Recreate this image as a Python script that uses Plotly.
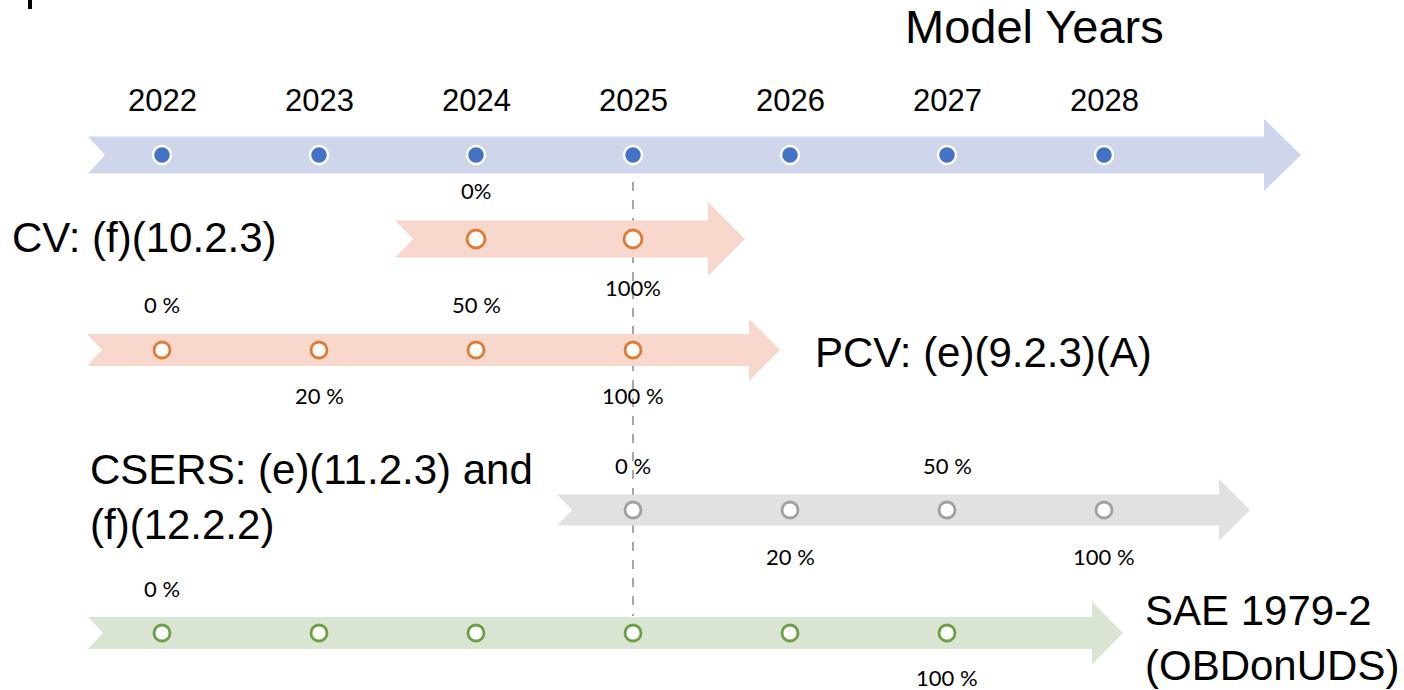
import plotly.graph_objects as go

# ---------------- data ----------------
model_years = [2022, 2023, 2024, 2025, 2026, 2027, 2028]

cv_years = [2024, 2025]
cv_labels = ["0%", "100%"]

pcv_years = [2022, 2023, 2024, 2025]
pcv_labels = ["0 %", "20 %", "50 %", "100 %"]

csers_years = [2025, 2026, 2027, 2028]
csers_labels = ["0 %", "20 %", "50 %", "100 %"]

sae_years = [2022, 2023, 2024, 2025, 2026, 2027]
sae_labels = ["0 %", "", "", "", "", "100 %"]

deadline_year = 2025

# ---------------- layout helpers ----------------
W, H = 1404, 690
PX_PER_YEAR = 157.0
X0_PX = 162.0  # pixel position of first model year


def px2yr(px):
    return model_years[0] + (px - X0_PX) / PX_PER_YEAR


x_range = [px2yr(0), px2yr(W)]

# arrow rows: start px, tip px, center y, body half, head half, head length, notch, color
rows = {
    "top":   dict(x0=88,  tip=1301, yc=155, bh=18.5, hh=36, hl=37, notch=17, color="#CFD5EA"),
    "cv":    dict(x0=395, tip=745,  yc=239, bh=18.5, hh=37, hl=37, notch=18, color="#F8D8CD"),
    "pcv":   dict(x0=87,  tip=780,  yc=350, bh=16,   hh=31, hl=31, notch=15, color="#F8D8CD"),
    "csers": dict(x0=557, tip=1250, yc=510, bh=15.5, hh=31, hl=31, notch=15, color="#E1E1E1"),
    "sae":   dict(x0=88,  tip=1123, yc=633, bh=16,   hh=31.5, hl=31, notch=15, color="#D9E5D2"),
}


def arrow_path(r):
    x0 = px2yr(r["x0"])
    xt = px2yr(r["tip"])
    xh = px2yr(r["tip"] - r["hl"])
    xn = px2yr(r["x0"] + r["notch"])
    yc, bh, hh = r["yc"], r["bh"], r["hh"]
    pts = [(x0, yc - bh), (xh, yc - bh), (xh, yc - hh), (xt, yc),
           (xh, yc + hh), (xh, yc + bh), (x0, yc + bh), (xn, yc)]
    return "M " + " L ".join(f"{x:.5f},{y:.2f}" for x, y in pts) + " Z"


fig = go.Figure()

shapes = []
# dashed deadline line (behind arrows)
shapes.append(dict(type="line", xref="x", yref="y", x0=deadline_year, x1=deadline_year,
                   y0=182, y1=616, layer="below",
                   line=dict(color="#A6A6A6", width=2, dash="dash")))
for key, r in rows.items():
    shapes.append(dict(type="path", xref="x", yref="y", path=arrow_path(r),
                       fillcolor=r["color"], line=dict(width=0), layer="below"))
# small clipped glyph at top-left
shapes.append(dict(type="line", xref="paper", yref="paper", x0=30 / W, x1=30 / W,
                   y0=1, y1=1 - 9 / H, line=dict(color="black", width=4)))

# ---------------- markers ----------------
fig.add_trace(go.Scatter(
    x=model_years, y=[rows["top"]["yc"]] * len(model_years), mode="markers",
    marker=dict(size=18, color="#4472C4", line=dict(color="white", width=2.5)),
    hoverinfo="skip", showlegend=False))


def ring_trace(years, yc, color, size):
    return go.Scatter(
        x=years, y=[yc] * len(years), mode="markers",
        marker=dict(size=size, color="white", line=dict(color=color, width=2.8)),
        hoverinfo="skip", showlegend=False)


fig.add_trace(ring_trace(cv_years, rows["cv"]["yc"], "#E07A32", 18))
fig.add_trace(ring_trace(pcv_years, rows["pcv"]["yc"], "#E07A32", 16))
fig.add_trace(ring_trace(csers_years, rows["csers"]["yc"], "#A0A0A0", 16))
fig.add_trace(ring_trace(sae_years, rows["sae"]["yc"], "#6AA043", 16))

# ---------------- annotations ----------------
ann = []
MAIN = "Liberation Sans, Arial, sans-serif"
PCT = "Lato, Calibri, sans-serif"

for yr in model_years:
    ann.append(dict(x=yr, y=100, xref="x", yref="y", text=str(yr), showarrow=False,
                    font=dict(family=MAIN, size=31, color="black"),
                    xanchor="center", yanchor="middle"))


def pct_labels(years, labels, yc, up, down, start_up=True):
    out = []
    for i, (yr, lab) in enumerate(zip(years, labels)):
        if not lab:
            continue
        above = (i % 2 == 0) if start_up else (i % 2 == 1)
        y = yc - up if above else yc + down
        out.append(dict(x=yr, y=y, xref="x", yref="y", text=lab, showarrow=False,
                        font=dict(family=PCT, size=22, color="black"),
                        xanchor="center", yanchor="middle"))
    return out


ann += pct_labels(cv_years, cv_labels, rows["cv"]["yc"], 49, 48)
ann += pct_labels(pcv_years, pcv_labels, rows["pcv"]["yc"], 46, 45)
ann += pct_labels(csers_years, csers_labels, rows["csers"]["yc"], 45, 46)
ann += pct_labels(sae_years, sae_labels, rows["sae"]["yc"], 45, 44)


def big_text(txt, xpx, ypx, size=42):
    return dict(x=xpx / W, y=1 - ypx / H, xref="paper", yref="paper", text=txt,
                showarrow=False, align="left", xanchor="left", yanchor="middle",
                font=dict(family=MAIN, size=size, color="black"))


ann.append(big_text("Model Years", 903, 27, 47))
ann.append(big_text("CV: (f)(10.2.3)", 10, 238))
ann.append(big_text("PCV: (e)(9.2.3)(A)", 813, 352))
ann.append(big_text("CSERS: (e)(11.2.3) and<br>(f)(12.2.2)", 88, 497))
ann.append(big_text("SAE 1979-2<br>(OBDonUDS)", 1143, 638))

fig.update_layout(
    width=W, height=H, margin=dict(l=0, r=0, t=0, b=0),
    paper_bgcolor="white", plot_bgcolor="white",
    xaxis=dict(range=x_range, visible=False, fixedrange=True),
    yaxis=dict(range=[H, 0], visible=False, fixedrange=True),
    shapes=shapes, annotations=ann, showlegend=False,
)

fig.write_html(
    "out.html",
    config={"displayModeBar": False},
    post_script="document.body.style.margin='0';document.body.style.overflow='hidden';",
)
